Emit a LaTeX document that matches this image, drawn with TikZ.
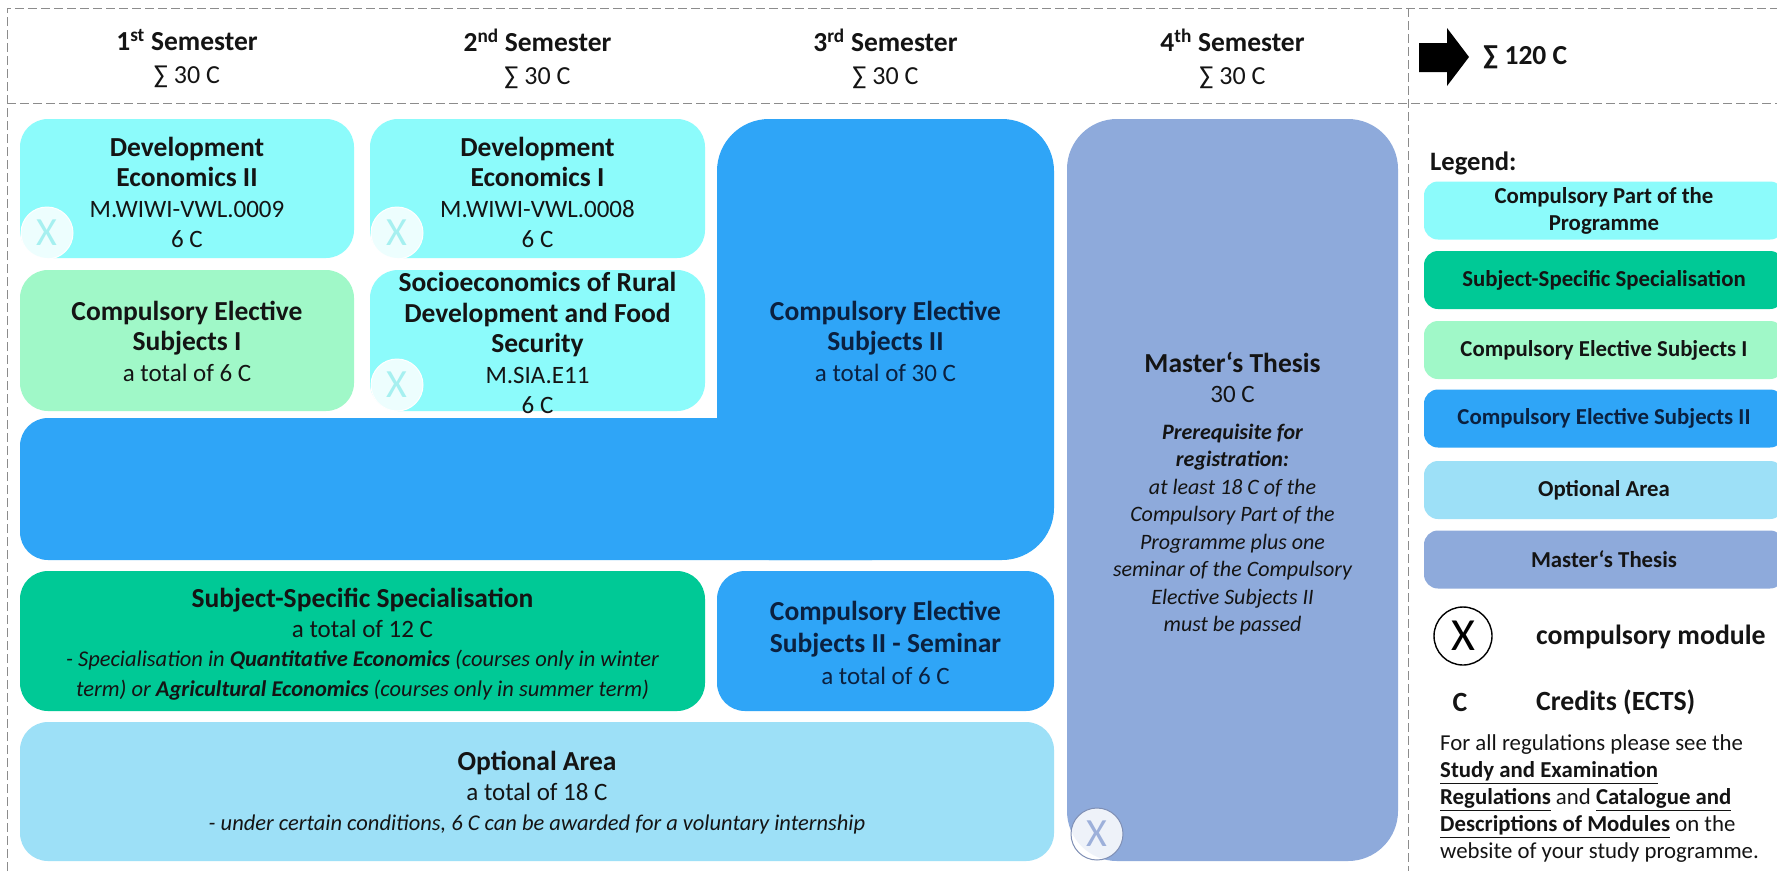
\documentclass[tikz,border=0pt]{standalone}
\usepackage{fontspec}
\setmainfont{Carlito}
\definecolor{cpart}{HTML}{8CFBFB}
\definecolor{celone}{HTML}{A0F8C8}
\definecolor{celtwo}{HTML}{2FA5F7}
\definecolor{specgreen}{HTML}{00C996}
\definecolor{optarea}{HTML}{9DE0F7}
\definecolor{thesisblue}{HTML}{8EAADB}
\definecolor{navy}{HTML}{0B2140}
\definecolor{ink}{HTML}{141414}
\definecolor{dashgray}{HTML}{8C8C8C}
\definecolor{xcyan}{HTML}{A6F0F0}
\definecolor{xthesis}{HTML}{9DB0DA}
\definecolor{xring}{HTML}{7F8FB5}
\newcommand\Ttl[1]{{\bfseries\fontsize{27.5}{30}\selectfont #1}}
\tikzset{
  dashline/.style={draw=dashgray, line width=1pt, dash pattern=on 9pt off 4pt},
  modbox/.style={rectangle, rounded corners=28pt, inner sep=0pt, outer sep=0pt},
  legbox/.style={rectangle, rounded corners=14pt, inner sep=0pt, minimum width=360pt, minimum height=58pt, align=center, text=ink, font=\bfseries\fontsize{22.8}{27}\selectfont},
  txt/.style={align=center, inner sep=0pt, text=ink, font=\fontsize{25}{30.5}\selectfont},
  hdr/.style={align=center, inner sep=0pt, text=ink, font=\fontsize{26}{33}\selectfont},
  xmark/.style={circle, fill=white, fill opacity=0.85, text opacity=1, draw=white, line width=1pt, minimum size=52pt, inner sep=0pt, text=xcyan, font=\fontsize{40}{40}\selectfont}
}
\begin{document}
\begin{tikzpicture}[x=1pt,y=-1pt]
\useasboundingbox (0,0) rectangle (1777,871);
\fill[white] (0,0) rectangle (1777,871);
% frame
\draw[dashline] (7,871) -- (7,8) -- (1777,8);
\draw[dashline] (7,103) -- (1777,103);
\draw[dashline] (1408,8) -- (1408,871);
% headers
\node[hdr] (sem1) at (187,58.5) {\Ttl{1\textsuperscript{st} Semester}\\ ∑ 30 C};
\node[hdr] (sem2) at (537.5,58.5) {\Ttl{2\textsuperscript{nd} Semester}\\ ∑ 30 C};
\node[hdr] (sem3) at (885.5,58.5) {\Ttl{3\textsuperscript{rd} Semester}\\ ∑ 30 C};
\node[hdr] (sem4) at (1232.5,58.5) {\Ttl{4\textsuperscript{th} Semester}\\ ∑ 30 C};
\fill[black] (1419,43) -- (1447,43) -- (1447,28) -- (1469,57) -- (1447,86) -- (1447,72) -- (1419,72) -- cycle;
\node[anchor=west, inner sep=0pt, text=ink, font=\bfseries\fontsize{27.5}{30}\selectfont] (total) at (1483,57) {∑ 120 C};
% compulsory elective II (L shape)
\fill[celtwo, rounded corners=52pt] (717,119) rectangle (1054,560);
\fill[celtwo, rounded corners=28pt] (20,418) rectangle (900,560);
\node[txt, text=navy] (ce2t) at (885.5,341) {\Ttl{Compulsory Elective}\\ \Ttl{Subjects II}\\ a total of 30 C};
% boxes
\node[modbox, fill=cpart, minimum width=334pt, minimum height=139pt] (dev2) at (187,188.5) {};
\node[modbox, fill=cpart, minimum width=335pt, minimum height=139pt] (dev1) at (537.5,188.5) {};
\node[modbox, fill=celone, minimum width=334pt, minimum height=141pt] (ce1) at (187,340.5) {};
\node[modbox, fill=cpart, minimum width=335pt, minimum height=141pt] (socio) at (537.5,340.5) {};
\node[modbox, fill=specgreen, minimum width=685pt, minimum height=140pt] (spec) at (362.5,641) {};
\node[modbox, fill=celtwo, minimum width=337pt, minimum height=140pt] (sem) at (885.5,641) {};
\node[modbox, fill=optarea, minimum width=1034pt, minimum height=139pt] (opt) at (537,791.5) {};
\node[modbox, rounded corners=50pt, fill=thesisblue, minimum width=331pt, minimum height=742pt] (thesis) at (1232.5,490) {};
% x marks
\node[xmark] (x1) at (47,233) {X};
\node[xmark] (x2) at (397,233) {X};
\node[xmark] (x3) at (397,385) {X};
\node[xmark, draw=xring, text=xthesis] (x4) at (1097,834) {X};
% texts
\node[txt] (dev2t) at (187,192.5) {\Ttl{Development}\\ \Ttl{Economics II}\\ M.WIWI-VWL.0009\\ 6 C};
\node[txt] (dev1t) at (537.5,192.5) {\Ttl{Development}\\ \Ttl{Economics I}\\ M.WIWI-VWL.0008\\ 6 C};
\node[txt] (ce1t) at (187,341) {\Ttl{Compulsory Elective}\\ \Ttl{Subjects I}\\ a total of 6 C};
\node[txt] (sociot) at (537.5,343) {\Ttl{Socioeconomics of Rural}\\ \Ttl{Development and Food}\\ \Ttl{Security}\\ M.SIA.E11\\ 6 C};
\node[txt, text=navy, font=\fontsize{25}{32}\selectfont] (semt) at (885.5,642.5) {\Ttl{Compulsory Elective}\\ \Ttl{Subjects II - Seminar}\\ a total of 6 C};
\node[txt, font=\fontsize{25}{29.5}\selectfont] (spect) at (362.5,644) {\Ttl{Subject-Specific Specialisation}\\ a total of 12 C\\
 {\itshape\fontsize{22.5}{28}\selectfont - Specialisation in \textbf{Quantitative Economics} (courses only in winter}\\
 {\itshape\fontsize{22.5}{28}\selectfont term) or \textbf{Agricultural Economics} (courses only in summer term)}};
\node[txt, font=\fontsize{25}{30}\selectfont] (optt) at (537,793) {\Ttl{Optional Area}\\ a total of 18 C\\ {\itshape\fontsize{22.5}{28}\selectfont - under certain conditions, 6 C can be awarded for a voluntary internship}};
\node[txt, font=\fontsize{25}{30}\selectfont] (thesist) at (1232.5,377) {\Ttl{Master‘s Thesis}\\ 30 C};
\node[txt, font=\itshape\fontsize{22}{27.5}\selectfont] (prereq) at (1232.5,529.5) {\textbf{Prerequisite for}\\ \textbf{registration:}\\ at least 18 C of the\\ Compulsory Part of the\\ Programme plus one\\ seminar of the Compulsory\\ Elective Subjects II\\ must be passed};
% legend
\node[anchor=west, inner sep=0pt, text=ink, font=\bfseries\fontsize{26.6}{30}\selectfont] (leg) at (1430,163) {Legend:};
\node[legbox, fill=cpart] (l1) at (1604,210.5) {Compulsory Part of the\\ Programme};
\node[legbox, fill=specgreen] (l2) at (1604,280) {Subject-Specific Specialisation};
\node[legbox, fill=celone] (l3) at (1604,350) {Compulsory Elective Subjects I};
\node[legbox, fill=celtwo, text=navy] (l4) at (1604,418.5) {Compulsory Elective Subjects II};
\node[legbox, fill=optarea] (l5) at (1604,490) {Optional Area};
\node[legbox, fill=thesisblue] (l6) at (1604,559.5) {Master‘s Thesis};
\node[circle, draw=black, line width=1.4pt, minimum size=58pt, inner sep=0pt, text=black, font=\fontsize{46}{46}\selectfont] (lx) at (1463,636) {X};
\node[anchor=west, inner sep=0pt, text=ink, font=\bfseries\fontsize{27.8}{30}\selectfont] (lxt) at (1536,637) {compulsory module};
\node[inner sep=0pt, text=ink, font=\bfseries\fontsize{27.8}{30}\selectfont] (lc) at (1460,702) {C};
\node[anchor=west, inner sep=0pt, text=ink, font=\bfseries\fontsize{27.8}{30}\selectfont] (lct) at (1536,702) {Credits (ECTS)};
\node[anchor=west, align=left, inner sep=0pt, text=ink, font=\fontsize{22.8}{27}\selectfont] (para) at (1440,799) {For all regulations please see the\\
 \underline{\textbf{Study and Examination}}\\
 \underline{\textbf{Regulations}} and \underline{\textbf{Catalogue and}}\\
 \underline{\textbf{Descriptions of Modules}} on the\\
 website of your study programme.};
\end{tikzpicture}
\end{document}
